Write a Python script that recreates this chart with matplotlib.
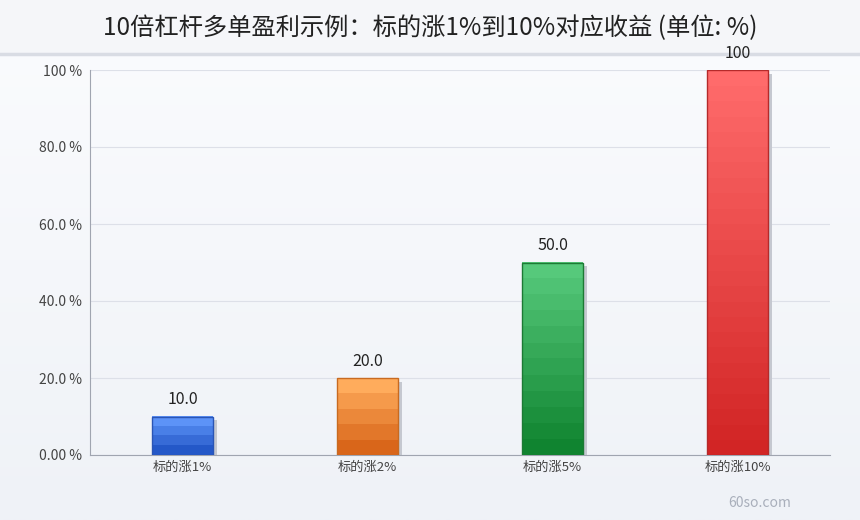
import numpy as np
import matplotlib
matplotlib.use("Agg")
import matplotlib.pyplot as plt
from matplotlib.colors import LinearSegmentedColormap

plt.rcParams['font.family'] = ['Noto Sans CJK SC', 'DejaVu Sans']

categories = ['标的涨1%', '标的涨2%', '标的涨5%', '标的涨10%']
values = [10, 20, 50, 100]
value_labels = ['10.0', '20.0', '50.0', '100']
yticks = [0, 20, 40, 60, 80, 100]
ytick_labels = ['0.00 %', '20.0 %', '40.0 %', '60.0 %', '80.0 %', '100 %']
title = '10倍杠杆多单盈利示例：标的涨1%到10%对应收益 (单位: %)'

# top colour, bottom colour, edge colour for each bar
bar_colors = [('#5d93f7', '#2458c8', '#2a55b5'),
              ('#ffac5c', '#d9661a', '#c86a20'),
              ('#56c97b', '#108430', '#1c7a34'),
              ('#ff6b6b', '#d22525', '#b52a2a')]

W, H = 860, 520
fig = plt.figure(figsize=(W / 100, H / 100), dpi=100)

# page background
bg = fig.add_axes([0, 0, 1, 1])
grad = np.linspace(0, 1, 256).reshape(-1, 1)
bg_cmap = LinearSegmentedColormap.from_list('bg', ['#fbfcfe', '#eff2f7'])
bg.imshow(grad, aspect='auto', cmap=bg_cmap, extent=[0, 1, 0, 1])
bg.fill_between([0, 1], 1 - 52 / H, 1, color='#f5f6f9')
bg.plot([0, 1], [1 - 53.5 / H] * 2, color='#d9dce4', lw=2.5)
bg.set_xlim(0, 1)
bg.set_ylim(0, 1)
bg.axis('off')
bg.text(0.5, 1 - 28 / H, title, ha='center', va='center', fontsize=17.5, color='#222222')
bg.text(760 / W, 1 - 503 / H, '60so.com', ha='center', va='center', fontsize=10, color='#a9afbb')

left, right, top, bottom = 90, 830, 70, 455
ax = fig.add_axes([left / W, 1 - bottom / H, (right - left) / W, (bottom - top) / H])
ax.patch.set_alpha(0)
x = np.arange(len(categories))
ax.set_xlim(-0.5, len(categories) - 0.5)
ax.set_ylim(0, 100)

bw = 0.325
bars = ax.bar(x, values, width=bw, color='none', zorder=3)
for i, b in enumerate(bars):
    x0, w, h = b.get_x(), b.get_width(), b.get_height()
    top_c, bot_c, edge_c = bar_colors[i]
    # shadow
    ax.bar(x0 + w / 2 + 0.022, h - 1.0, width=w, color='#c5c8d0', zorder=2)
    n = max(4, int(h / 4))
    steps = np.floor(np.linspace(0, n, 512, endpoint=False)) / (n - 1)
    cm = LinearSegmentedColormap.from_list('c%d' % i, [top_c, bot_c])
    ax.imshow(steps.reshape(-1, 1), aspect='auto', cmap=cm,
              extent=[x0, x0 + w, 0, h], zorder=3, interpolation='nearest')
    ax.add_patch(plt.Rectangle((x0, 0), w, h, fill=False, ec=edge_c, lw=1, zorder=4))
    ax.text(x[i], h + 2.2, value_labels[i], ha='center', va='bottom', fontsize=11.5, color='#222222')

ax.set_xlim(-0.5, len(categories) - 0.5)
ax.set_ylim(0, 100)
ax.set_yticks(yticks)
ax.set_yticklabels(ytick_labels)
ax.set_xticks(x)
ax.set_xticklabels(categories)
ax.grid(axis='y', color='#dde0e8', lw=0.8, zorder=0)
ax.set_axisbelow(True)
ax.tick_params(axis='y', length=0, labelsize=10, labelcolor='#444444', pad=6)
ax.tick_params(axis='x', length=0, labelsize=9.5, labelcolor='#444444', pad=4)
for s in ['top', 'right']:
    ax.spines[s].set_visible(False)
ax.spines['left'].set_color('#a0a5b0')
ax.spines['bottom'].set_color('#a0a5b0')

fig.savefig('out.png', dpi=100)
